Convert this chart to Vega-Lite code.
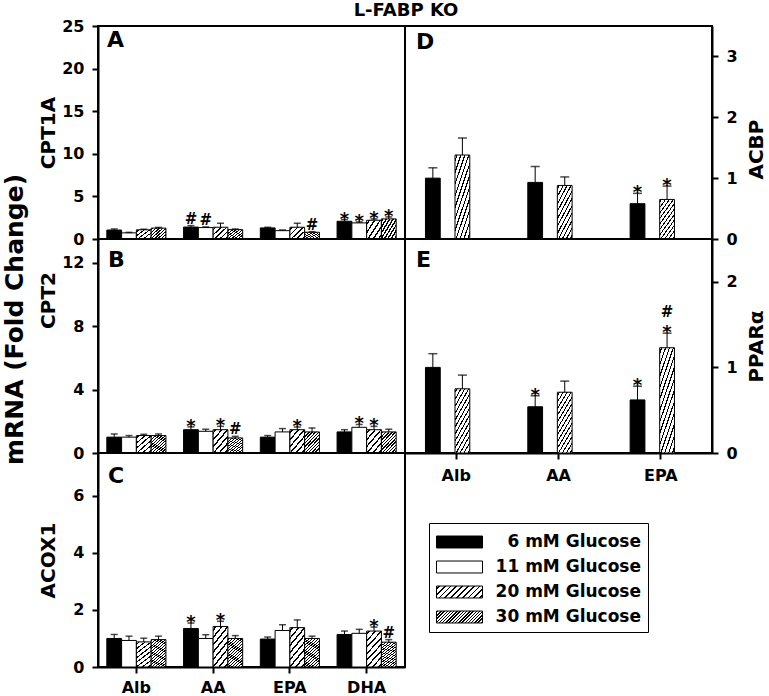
{
"$schema": "https://vega.github.io/schema/vega-lite/v6.json",
"padding": {"left": 2, "top": 2, "right": 0, "bottom": 0},
"title": {"text": "L-FABP KO", "fontSize": 18, "anchor": "middle", "dx": 21, "offset": -17, "baseline": "alphabetic"},
"data": {"name": "bars"},
"datasets": {"bars": [
{"p":"A","fa":"Alb","g":"6 mM Glucose","v":1.05,"u":1.18},
{"p":"A","fa":"Alb","g":"11 mM Glucose","v":0.72,"u":0.78},
{"p":"A","fa":"Alb","g":"20 mM Glucose","v":1.08,"u":1.15},
{"p":"A","fa":"Alb","g":"30 mM Glucose","v":1.28,"u":1.36},
{"p":"A","fa":"AA","g":"6 mM Glucose","v":1.4,"u":1.57,"s":"#"},
{"p":"A","fa":"AA","g":"11 mM Glucose","v":1.34,"u":1.42,"s":"#"},
{"p":"A","fa":"AA","g":"20 mM Glucose","v":1.38,"u":1.85},
{"p":"A","fa":"AA","g":"30 mM Glucose","v":1.1,"u":1.18},
{"p":"A","fa":"EPA","g":"6 mM Glucose","v":1.3,"u":1.38},
{"p":"A","fa":"EPA","g":"11 mM Glucose","v":0.98,"u":1.06},
{"p":"A","fa":"EPA","g":"20 mM Glucose","v":1.38,"u":1.85},
{"p":"A","fa":"EPA","g":"30 mM Glucose","v":0.79,"u":0.86,"s":"#"},
{"p":"A","fa":"DHA","g":"6 mM Glucose","v":2.08,"u":2.28,"s":"*"},
{"p":"A","fa":"DHA","g":"11 mM Glucose","v":1.89,"u":2.0,"s":"*"},
{"p":"A","fa":"DHA","g":"20 mM Glucose","v":2.2,"u":2.36,"s":"*"},
{"p":"A","fa":"DHA","g":"30 mM Glucose","v":2.36,"u":2.59,"s":"*"},
{"p":"B","fa":"Alb","g":"6 mM Glucose","v":1.0,"u":1.2},
{"p":"B","fa":"Alb","g":"11 mM Glucose","v":1.0,"u":1.1},
{"p":"B","fa":"Alb","g":"20 mM Glucose","v":1.1,"u":1.18},
{"p":"B","fa":"Alb","g":"30 mM Glucose","v":1.1,"u":1.2},
{"p":"B","fa":"AA","g":"6 mM Glucose","v":1.47,"u":1.65,"s":"*"},
{"p":"B","fa":"AA","g":"11 mM Glucose","v":1.37,"u":1.5},
{"p":"B","fa":"AA","g":"20 mM Glucose","v":1.47,"u":1.68,"s":"*"},
{"p":"B","fa":"AA","g":"30 mM Glucose","v":0.95,"u":1.05,"s":"#"},
{"p":"B","fa":"EPA","g":"6 mM Glucose","v":1.0,"u":1.1},
{"p":"B","fa":"EPA","g":"11 mM Glucose","v":1.33,"u":1.54},
{"p":"B","fa":"EPA","g":"20 mM Glucose","v":1.47,"u":1.64,"s":"*"},
{"p":"B","fa":"EPA","g":"30 mM Glucose","v":1.33,"u":1.58},
{"p":"B","fa":"DHA","g":"6 mM Glucose","v":1.33,"u":1.47},
{"p":"B","fa":"DHA","g":"11 mM Glucose","v":1.62,"u":1.8,"s":"*"},
{"p":"B","fa":"DHA","g":"20 mM Glucose","v":1.47,"u":1.68,"s":"*"},
{"p":"B","fa":"DHA","g":"30 mM Glucose","v":1.33,"u":1.5},
{"p":"C","fa":"Alb","g":"6 mM Glucose","v":1.0,"u":1.14},
{"p":"C","fa":"Alb","g":"11 mM Glucose","v":0.93,"u":1.08},
{"p":"C","fa":"Alb","g":"20 mM Glucose","v":0.88,"u":1.01},
{"p":"C","fa":"Alb","g":"30 mM Glucose","v":0.96,"u":1.08},
{"p":"C","fa":"AA","g":"6 mM Glucose","v":1.35,"u":1.54,"s":"*"},
{"p":"C","fa":"AA","g":"11 mM Glucose","v":1.0,"u":1.13},
{"p":"C","fa":"AA","g":"20 mM Glucose","v":1.42,"u":1.6,"s":"*"},
{"p":"C","fa":"AA","g":"30 mM Glucose","v":1.0,"u":1.1},
{"p":"C","fa":"EPA","g":"6 mM Glucose","v":0.98,"u":1.05},
{"p":"C","fa":"EPA","g":"11 mM Glucose","v":1.28,"u":1.48},
{"p":"C","fa":"EPA","g":"20 mM Glucose","v":1.38,"u":1.65},
{"p":"C","fa":"EPA","g":"30 mM Glucose","v":1.0,"u":1.08},
{"p":"C","fa":"DHA","g":"6 mM Glucose","v":1.14,"u":1.26},
{"p":"C","fa":"DHA","g":"11 mM Glucose","v":1.18,"u":1.32},
{"p":"C","fa":"DHA","g":"20 mM Glucose","v":1.26,"u":1.4,"s":"*"},
{"p":"C","fa":"DHA","g":"30 mM Glucose","v":0.87,"u":0.96,"s":"#"},
{"p":"D","fa":"Alb","g":"6 mM Glucose","v":1.0,"u":1.17},
{"p":"D","fa":"Alb","g":"20 mM Glucose","v":1.38,"u":1.66},
{"p":"D","fa":"AA","g":"6 mM Glucose","v":0.93,"u":1.19},
{"p":"D","fa":"AA","g":"20 mM Glucose","v":0.88,"u":1.02},
{"p":"D","fa":"EPA","g":"6 mM Glucose","v":0.58,"u":0.75,"s":"*"},
{"p":"D","fa":"EPA","g":"20 mM Glucose","v":0.65,"u":0.87,"s":"*"},
{"p":"E","fa":"Alb","g":"6 mM Glucose","v":1.0,"u":1.16},
{"p":"E","fa":"Alb","g":"20 mM Glucose","v":0.75,"u":0.91},
{"p":"E","fa":"AA","g":"6 mM Glucose","v":0.54,"u":0.67,"s":"*"},
{"p":"E","fa":"AA","g":"20 mM Glucose","v":0.71,"u":0.84},
{"p":"E","fa":"EPA","g":"6 mM Glucose","v":0.62,"u":0.78,"s":"*"},
{"p":"E","fa":"EPA","g":"20 mM Glucose","v":1.23,"u":1.4,"s":"*","s2":"#"}
]},
"vconcat": [
{
"concat": [
{
"width": 307, "height": 213,
"title": {"text": "A", "orient": "top", "anchor": "start", "frame": "group", "offset": -51, "dx": 9, "fontSize": 22, "baseline": "alphabetic"},
"transform": [{"filter": "datum.p === 'A'"}],
"encoding": {
"x": {"field": "fa", "type": "nominal", "sort": null, "scale": {"domain": ["Alb","AA","EPA","DHA"], "paddingInner": 0.23, "paddingOuter": 0.115}, "axis": null},
"xOffset": {"field": "g", "type": "nominal", "sort": null, "scale": {"domain": ["6 mM Glucose","11 mM Glucose","20 mM Glucose","30 mM Glucose"], "paddingInner": 0, "paddingOuter": 0}}
},
"layer": [
{"mark": {"type": "bar", "stroke": "#000", "strokeWidth": 1},
"encoding": {
"y": {"field": "v", "type": "quantitative", "scale": {"domain": [0, 25], "nice": false}, "axis": {"values": [0,5,10,15,20,25], "format": "d", "title": "CPT1A", "titleX": -40}},
"fill": {"condition": [
{"test": "datum.g === '6 mM Glucose'", "value": "#000"},
{"test": "datum.g === '20 mM Glucose'", "value": {"gradient": "linear", "x1": 0, "y1": 0, "x2": 1.08, "y2": 0.9, "stops": [{"offset":0.07,"color":"#fff"},{"offset":0.07,"color":"#000"},{"offset":0.13,"color":"#000"},{"offset":0.13,"color":"#fff"},{"offset":0.27,"color":"#fff"},{"offset":0.27,"color":"#000"},{"offset":0.33,"color":"#000"},{"offset":0.33,"color":"#fff"},{"offset":0.47,"color":"#fff"},{"offset":0.47,"color":"#000"},{"offset":0.53,"color":"#000"},{"offset":0.53,"color":"#fff"},{"offset":0.67,"color":"#fff"},{"offset":0.67,"color":"#000"},{"offset":0.73,"color":"#000"},{"offset":0.73,"color":"#fff"},{"offset":0.87,"color":"#fff"},{"offset":0.87,"color":"#000"},{"offset":0.93,"color":"#000"},{"offset":0.93,"color":"#fff"}]}},
{"test": "datum.g === '30 mM Glucose'", "value": {"gradient": "linear", "x1": 0, "y1": 0, "x2": 1.08, "y2": 0.9, "stops": [{"offset":0.034,"color":"#fff"},{"offset":0.034,"color":"#000"},{"offset":0.091,"color":"#000"},{"offset":0.091,"color":"#fff"},{"offset":0.159,"color":"#fff"},{"offset":0.159,"color":"#000"},{"offset":0.216,"color":"#000"},{"offset":0.216,"color":"#fff"},{"offset":0.284,"color":"#fff"},{"offset":0.284,"color":"#000"},{"offset":0.341,"color":"#000"},{"offset":0.341,"color":"#fff"},{"offset":0.409,"color":"#fff"},{"offset":0.409,"color":"#000"},{"offset":0.466,"color":"#000"},{"offset":0.466,"color":"#fff"},{"offset":0.534,"color":"#fff"},{"offset":0.534,"color":"#000"},{"offset":0.591,"color":"#000"},{"offset":0.591,"color":"#fff"},{"offset":0.659,"color":"#fff"},{"offset":0.659,"color":"#000"},{"offset":0.716,"color":"#000"},{"offset":0.716,"color":"#fff"},{"offset":0.784,"color":"#fff"},{"offset":0.784,"color":"#000"},{"offset":0.841,"color":"#000"},{"offset":0.841,"color":"#fff"},{"offset":0.909,"color":"#fff"},{"offset":0.909,"color":"#000"},{"offset":0.966,"color":"#000"},{"offset":0.966,"color":"#fff"}]}}
], "value": "#fff"}
}},
{"mark": {"type": "rule", "color": "#000", "strokeWidth": 1}, "encoding": {"y": {"field": "v", "type": "quantitative"}, "y2": {"field": "u"}}},
{"mark": {"type": "tick", "color": "#000", "thickness": 1.5, "size": 7}, "encoding": {"y": {"field": "u", "type": "quantitative"}}},
{"transform": [{"filter": "datum.s === '*'"}], "mark": {"type": "text", "fontSize": 18, "fontWeight": "bold", "baseline": "alphabetic", "dy": 5, "color": "#000"}, "encoding": {"y": {"field": "u", "type": "quantitative"}, "text": {"field": "s"}}},
{"transform": [{"filter": "datum.s === '#'"}], "mark": {"type": "text", "fontSize": 15, "fontWeight": "bold", "baseline": "alphabetic", "dy": -2, "color": "#000"}, "encoding": {"y": {"field": "u", "type": "quantitative"}, "text": {"field": "s"}}}
]
},
{
"width": 307, "height": 213,
"title": {"text": "D", "orient": "top", "anchor": "start", "frame": "group", "offset": -45, "dx": 11, "fontSize": 22, "baseline": "alphabetic"},
"transform": [{"filter": "datum.p === 'D'"}],
"encoding": {
"x": {"field": "fa", "type": "nominal", "sort": null, "scale": {"domain": ["Alb","AA","EPA"], "paddingInner": 0.4, "paddingOuter": 0.2}, "axis": null},
"xOffset": {"field": "g", "type": "nominal", "sort": null, "scale": {"domain": ["6 mM Glucose","20 mM Glucose"], "paddingInner": 0, "paddingOuter": 0}}
},
"layer": [
{"mark": {"type": "bar", "stroke": "#000", "strokeWidth": 1},
"encoding": {
"y": {"field": "v", "type": "quantitative", "scale": {"domain": [0, 3.5], "nice": false}, "axis": {"orient": "right", "values": [0,1,2,3], "format": "d", "title": "ACBP", "titleAngle": -90, "titleX": 54, "titleY": 123, "titleBaseline": "bottom", "titleAlign": "center"}},
"fill": {"condition": [
{"test": "datum.g === '6 mM Glucose'", "value": "#000"}
], "value": {"gradient": "linear", "x1": 0, "y1": 0, "x2": 0.622, "y2": 1.196, "stops": [{"offset":0.032,"color":"#fff"},{"offset":0.032,"color":"#000"},{"offset":0.059,"color":"#000"},{"offset":0.059,"color":"#fff"},{"offset":0.123,"color":"#fff"},{"offset":0.123,"color":"#000"},{"offset":0.15,"color":"#000"},{"offset":0.15,"color":"#fff"},{"offset":0.214,"color":"#fff"},{"offset":0.214,"color":"#000"},{"offset":0.241,"color":"#000"},{"offset":0.241,"color":"#fff"},{"offset":0.305,"color":"#fff"},{"offset":0.305,"color":"#000"},{"offset":0.332,"color":"#000"},{"offset":0.332,"color":"#fff"},{"offset":0.395,"color":"#fff"},{"offset":0.395,"color":"#000"},{"offset":0.423,"color":"#000"},{"offset":0.423,"color":"#fff"},{"offset":0.486,"color":"#fff"},{"offset":0.486,"color":"#000"},{"offset":0.514,"color":"#000"},{"offset":0.514,"color":"#fff"},{"offset":0.577,"color":"#fff"},{"offset":0.577,"color":"#000"},{"offset":0.605,"color":"#000"},{"offset":0.605,"color":"#fff"},{"offset":0.668,"color":"#fff"},{"offset":0.668,"color":"#000"},{"offset":0.695,"color":"#000"},{"offset":0.695,"color":"#fff"},{"offset":0.759,"color":"#fff"},{"offset":0.759,"color":"#000"},{"offset":0.786,"color":"#000"},{"offset":0.786,"color":"#fff"},{"offset":0.85,"color":"#fff"},{"offset":0.85,"color":"#000"},{"offset":0.877,"color":"#000"},{"offset":0.877,"color":"#fff"},{"offset":0.941,"color":"#fff"},{"offset":0.941,"color":"#000"},{"offset":0.968,"color":"#000"},{"offset":0.968,"color":"#fff"}]}}
}},
{"mark": {"type": "rule", "color": "#000", "strokeWidth": 1}, "encoding": {"y": {"field": "v", "type": "quantitative"}, "y2": {"field": "u"}}},
{"mark": {"type": "tick", "color": "#000", "thickness": 1.5, "size": 9}, "encoding": {"y": {"field": "u", "type": "quantitative"}}},
{"transform": [{"filter": "datum.s === '*'"}], "mark": {"type": "text", "fontSize": 18, "fontWeight": "bold", "baseline": "alphabetic", "dy": 5, "color": "#000"}, "encoding": {"y": {"field": "u", "type": "quantitative"}, "text": {"field": "s"}}}
]
},
{
"width": 307, "height": 214,
"title": {"text": "B", "orient": "top", "anchor": "start", "frame": "group", "offset": -50, "dx": 10, "fontSize": 22, "baseline": "alphabetic"},
"transform": [{"filter": "datum.p === 'B'"}],
"encoding": {
"x": {"field": "fa", "type": "nominal", "sort": null, "scale": {"domain": ["Alb","AA","EPA","DHA"], "paddingInner": 0.23, "paddingOuter": 0.115}, "axis": null},
"xOffset": {"field": "g", "type": "nominal", "sort": null, "scale": {"domain": ["6 mM Glucose","11 mM Glucose","20 mM Glucose","30 mM Glucose"], "paddingInner": 0, "paddingOuter": 0}}
},
"layer": [
{"mark": {"type": "bar", "stroke": "#000", "strokeWidth": 1},
"encoding": {
"y": {"field": "v", "type": "quantitative", "scale": {"domain": [0, 13.5], "nice": false}, "axis": {"values": [0,2,4,6,8,10,12], "format": "d", "title": "CPT2", "titleX": -40, "titleY": 61}},
"fill": {"condition": [
{"test": "datum.g === '6 mM Glucose'", "value": "#000"},
{"test": "datum.g === '20 mM Glucose'", "value": {"gradient": "linear", "x1": 0, "y1": 0, "x2": 0.832, "y2": 1.124, "stops": [{"offset":0.058,"color":"#fff"},{"offset":0.058,"color":"#000"},{"offset":0.108,"color":"#000"},{"offset":0.108,"color":"#fff"},{"offset":0.225,"color":"#fff"},{"offset":0.225,"color":"#000"},{"offset":0.275,"color":"#000"},{"offset":0.275,"color":"#fff"},{"offset":0.392,"color":"#fff"},{"offset":0.392,"color":"#000"},{"offset":0.442,"color":"#000"},{"offset":0.442,"color":"#fff"},{"offset":0.558,"color":"#fff"},{"offset":0.558,"color":"#000"},{"offset":0.608,"color":"#000"},{"offset":0.608,"color":"#fff"},{"offset":0.725,"color":"#fff"},{"offset":0.725,"color":"#000"},{"offset":0.775,"color":"#000"},{"offset":0.775,"color":"#fff"},{"offset":0.892,"color":"#fff"},{"offset":0.892,"color":"#000"},{"offset":0.942,"color":"#000"},{"offset":0.942,"color":"#fff"}]}},
{"test": "datum.g === '30 mM Glucose'", "value": {"gradient": "linear", "x1": 0, "y1": 0, "x2": 0.832, "y2": 1.124, "stops": [{"offset":0.025,"color":"#fff"},{"offset":0.025,"color":"#000"},{"offset":0.066,"color":"#000"},{"offset":0.066,"color":"#fff"},{"offset":0.116,"color":"#fff"},{"offset":0.116,"color":"#000"},{"offset":0.157,"color":"#000"},{"offset":0.157,"color":"#fff"},{"offset":0.207,"color":"#fff"},{"offset":0.207,"color":"#000"},{"offset":0.248,"color":"#000"},{"offset":0.248,"color":"#fff"},{"offset":0.298,"color":"#fff"},{"offset":0.298,"color":"#000"},{"offset":0.339,"color":"#000"},{"offset":0.339,"color":"#fff"},{"offset":0.389,"color":"#fff"},{"offset":0.389,"color":"#000"},{"offset":0.43,"color":"#000"},{"offset":0.43,"color":"#fff"},{"offset":0.48,"color":"#fff"},{"offset":0.48,"color":"#000"},{"offset":0.521,"color":"#000"},{"offset":0.521,"color":"#fff"},{"offset":0.571,"color":"#fff"},{"offset":0.571,"color":"#000"},{"offset":0.612,"color":"#000"},{"offset":0.612,"color":"#fff"},{"offset":0.661,"color":"#fff"},{"offset":0.661,"color":"#000"},{"offset":0.702,"color":"#000"},{"offset":0.702,"color":"#fff"},{"offset":0.752,"color":"#fff"},{"offset":0.752,"color":"#000"},{"offset":0.793,"color":"#000"},{"offset":0.793,"color":"#fff"},{"offset":0.843,"color":"#fff"},{"offset":0.843,"color":"#000"},{"offset":0.884,"color":"#000"},{"offset":0.884,"color":"#fff"},{"offset":0.934,"color":"#fff"},{"offset":0.934,"color":"#000"},{"offset":0.975,"color":"#000"},{"offset":0.975,"color":"#fff"}]}}
], "value": "#fff"}
}},
{"mark": {"type": "rule", "color": "#000", "strokeWidth": 1}, "encoding": {"y": {"field": "v", "type": "quantitative"}, "y2": {"field": "u"}}},
{"mark": {"type": "tick", "color": "#000", "thickness": 1.5, "size": 7}, "encoding": {"y": {"field": "u", "type": "quantitative"}}},
{"transform": [{"filter": "datum.s === '*'"}], "mark": {"type": "text", "fontSize": 18, "fontWeight": "bold", "baseline": "alphabetic", "dy": 5, "color": "#000"}, "encoding": {"y": {"field": "u", "type": "quantitative"}, "text": {"field": "s"}}},
{"transform": [{"filter": "datum.s === '#'"}], "mark": {"type": "text", "fontSize": 15, "fontWeight": "bold", "baseline": "alphabetic", "dy": -2, "color": "#000"}, "encoding": {"y": {"field": "u", "type": "quantitative"}, "text": {"field": "s"}}}
]
},
{
"width": 307, "height": 214,
"title": {"text": "E", "orient": "top", "anchor": "start", "frame": "group", "offset": -50, "dx": 11, "fontSize": 22, "baseline": "alphabetic"},
"transform": [{"filter": "datum.p === 'E'"}],
"encoding": {
"x": {"field": "fa", "type": "nominal", "sort": null, "scale": {"domain": ["Alb","AA","EPA"], "paddingInner": 0.4, "paddingOuter": 0.2}, "axis": {"orient": "bottom", "title": null, "labelAngle": 0, "tickSize": 6, "labelPadding": 8}},
"xOffset": {"field": "g", "type": "nominal", "sort": null, "scale": {"domain": ["6 mM Glucose","20 mM Glucose"], "paddingInner": 0, "paddingOuter": 0}}
},
"layer": [
{"mark": {"type": "bar", "stroke": "#000", "strokeWidth": 1},
"encoding": {
"y": {"field": "v", "type": "quantitative", "scale": {"domain": [0, 2.5], "nice": false}, "axis": {"orient": "right", "values": [0,1,2], "format": "d", "title": "PPARα", "titleAngle": -90, "titleX": 54, "titleY": 107, "titleBaseline": "bottom", "titleAlign": "center"}},
"fill": {"condition": [
{"test": "datum.g === '6 mM Glucose'", "value": "#000"}
], "value": {"gradient": "linear", "x1": 0, "y1": 0, "x2": 0.495, "y2": 1.207, "stops": [{"offset":0.027,"color":"#fff"},{"offset":0.027,"color":"#000"},{"offset":0.05,"color":"#000"},{"offset":0.05,"color":"#fff"},{"offset":0.104,"color":"#fff"},{"offset":0.104,"color":"#000"},{"offset":0.127,"color":"#000"},{"offset":0.127,"color":"#fff"},{"offset":0.181,"color":"#fff"},{"offset":0.181,"color":"#000"},{"offset":0.204,"color":"#000"},{"offset":0.204,"color":"#fff"},{"offset":0.258,"color":"#fff"},{"offset":0.258,"color":"#000"},{"offset":0.281,"color":"#000"},{"offset":0.281,"color":"#fff"},{"offset":0.335,"color":"#fff"},{"offset":0.335,"color":"#000"},{"offset":0.358,"color":"#000"},{"offset":0.358,"color":"#fff"},{"offset":0.412,"color":"#fff"},{"offset":0.412,"color":"#000"},{"offset":0.435,"color":"#000"},{"offset":0.435,"color":"#fff"},{"offset":0.488,"color":"#fff"},{"offset":0.488,"color":"#000"},{"offset":0.512,"color":"#000"},{"offset":0.512,"color":"#fff"},{"offset":0.565,"color":"#fff"},{"offset":0.565,"color":"#000"},{"offset":0.588,"color":"#000"},{"offset":0.588,"color":"#fff"},{"offset":0.642,"color":"#fff"},{"offset":0.642,"color":"#000"},{"offset":0.665,"color":"#000"},{"offset":0.665,"color":"#fff"},{"offset":0.719,"color":"#fff"},{"offset":0.719,"color":"#000"},{"offset":0.742,"color":"#000"},{"offset":0.742,"color":"#fff"},{"offset":0.796,"color":"#fff"},{"offset":0.796,"color":"#000"},{"offset":0.819,"color":"#000"},{"offset":0.819,"color":"#fff"},{"offset":0.873,"color":"#fff"},{"offset":0.873,"color":"#000"},{"offset":0.896,"color":"#000"},{"offset":0.896,"color":"#fff"},{"offset":0.95,"color":"#fff"},{"offset":0.95,"color":"#000"},{"offset":0.973,"color":"#000"},{"offset":0.973,"color":"#fff"}]}}
}},
{"mark": {"type": "rule", "color": "#000", "strokeWidth": 1}, "encoding": {"y": {"field": "v", "type": "quantitative"}, "y2": {"field": "u"}}},
{"mark": {"type": "tick", "color": "#000", "thickness": 1.5, "size": 9}, "encoding": {"y": {"field": "u", "type": "quantitative"}}},
{"transform": [{"filter": "datum.s === '*'"}], "mark": {"type": "text", "fontSize": 18, "fontWeight": "bold", "baseline": "alphabetic", "dy": 5, "color": "#000"}, "encoding": {"y": {"field": "u", "type": "quantitative"}, "text": {"field": "s"}}},
{"transform": [{"filter": "datum.s2 === '#'"}], "mark": {"type": "text", "fontSize": 15, "fontWeight": "bold", "baseline": "alphabetic", "dy": -16, "color": "#000"}, "encoding": {"y": {"field": "u", "type": "quantitative"}, "text": {"field": "s2"}}}
]
},
{
"width": 307, "height": 214,
"title": {"text": "C", "orient": "top", "anchor": "start", "frame": "group", "offset": -52, "dx": 10, "fontSize": 22, "baseline": "alphabetic"},
"transform": [{"filter": "datum.p === 'C'"}],
"encoding": {
"x": {"field": "fa", "type": "nominal", "sort": null, "scale": {"domain": ["Alb","AA","EPA","DHA"], "paddingInner": 0.23, "paddingOuter": 0.115}, "axis": {"orient": "bottom", "title": null, "labelAngle": 0, "tickSize": 6, "labelPadding": 6}},
"xOffset": {"field": "g", "type": "nominal", "sort": null, "scale": {"domain": ["6 mM Glucose","11 mM Glucose","20 mM Glucose","30 mM Glucose"], "paddingInner": 0, "paddingOuter": 0}}
},
"layer": [
{"mark": {"type": "bar", "stroke": "#000", "strokeWidth": 1},
"encoding": {
"y": {"field": "v", "type": "quantitative", "scale": {"domain": [0, 7.5], "nice": false}, "axis": {"values": [0,2,4,6], "format": "d", "title": "ACOX1", "titleX": -40}},
"fill": {"condition": [
{"test": "datum.g === '6 mM Glucose'", "value": "#000"},
{"test": "datum.g === '20 mM Glucose'", "value": {"gradient": "linear", "x1": 0, "y1": 0, "x2": 0.543, "y2": 1.206, "stops": [{"offset":0.044,"color":"#fff"},{"offset":0.044,"color":"#000"},{"offset":0.081,"color":"#000"},{"offset":0.081,"color":"#fff"},{"offset":0.169,"color":"#fff"},{"offset":0.169,"color":"#000"},{"offset":0.206,"color":"#000"},{"offset":0.206,"color":"#fff"},{"offset":0.294,"color":"#fff"},{"offset":0.294,"color":"#000"},{"offset":0.331,"color":"#000"},{"offset":0.331,"color":"#fff"},{"offset":0.419,"color":"#fff"},{"offset":0.419,"color":"#000"},{"offset":0.456,"color":"#000"},{"offset":0.456,"color":"#fff"},{"offset":0.544,"color":"#fff"},{"offset":0.544,"color":"#000"},{"offset":0.581,"color":"#000"},{"offset":0.581,"color":"#fff"},{"offset":0.669,"color":"#fff"},{"offset":0.669,"color":"#000"},{"offset":0.706,"color":"#000"},{"offset":0.706,"color":"#fff"},{"offset":0.794,"color":"#fff"},{"offset":0.794,"color":"#000"},{"offset":0.831,"color":"#000"},{"offset":0.831,"color":"#fff"},{"offset":0.919,"color":"#fff"},{"offset":0.919,"color":"#000"},{"offset":0.956,"color":"#000"},{"offset":0.956,"color":"#fff"}]}},
{"test": "datum.g === '30 mM Glucose'", "value": {"gradient": "linear", "x1": 0, "y1": 0, "x2": 0.543, "y2": 1.206, "stops": [{"offset":0.018,"color":"#fff"},{"offset":0.018,"color":"#000"},{"offset":0.048,"color":"#000"},{"offset":0.048,"color":"#fff"},{"offset":0.085,"color":"#fff"},{"offset":0.085,"color":"#000"},{"offset":0.115,"color":"#000"},{"offset":0.115,"color":"#fff"},{"offset":0.152,"color":"#fff"},{"offset":0.152,"color":"#000"},{"offset":0.182,"color":"#000"},{"offset":0.182,"color":"#fff"},{"offset":0.218,"color":"#fff"},{"offset":0.218,"color":"#000"},{"offset":0.248,"color":"#000"},{"offset":0.248,"color":"#fff"},{"offset":0.285,"color":"#fff"},{"offset":0.285,"color":"#000"},{"offset":0.315,"color":"#000"},{"offset":0.315,"color":"#fff"},{"offset":0.352,"color":"#fff"},{"offset":0.352,"color":"#000"},{"offset":0.382,"color":"#000"},{"offset":0.382,"color":"#fff"},{"offset":0.418,"color":"#fff"},{"offset":0.418,"color":"#000"},{"offset":0.448,"color":"#000"},{"offset":0.448,"color":"#fff"},{"offset":0.485,"color":"#fff"},{"offset":0.485,"color":"#000"},{"offset":0.515,"color":"#000"},{"offset":0.515,"color":"#fff"},{"offset":0.552,"color":"#fff"},{"offset":0.552,"color":"#000"},{"offset":0.582,"color":"#000"},{"offset":0.582,"color":"#fff"},{"offset":0.618,"color":"#fff"},{"offset":0.618,"color":"#000"},{"offset":0.648,"color":"#000"},{"offset":0.648,"color":"#fff"},{"offset":0.685,"color":"#fff"},{"offset":0.685,"color":"#000"},{"offset":0.715,"color":"#000"},{"offset":0.715,"color":"#fff"},{"offset":0.752,"color":"#fff"},{"offset":0.752,"color":"#000"},{"offset":0.782,"color":"#000"},{"offset":0.782,"color":"#fff"},{"offset":0.818,"color":"#fff"},{"offset":0.818,"color":"#000"},{"offset":0.848,"color":"#000"},{"offset":0.848,"color":"#fff"},{"offset":0.885,"color":"#fff"},{"offset":0.885,"color":"#000"},{"offset":0.915,"color":"#000"},{"offset":0.915,"color":"#fff"},{"offset":0.952,"color":"#fff"},{"offset":0.952,"color":"#000"},{"offset":0.982,"color":"#000"},{"offset":0.982,"color":"#fff"}]}}
], "value": "#fff"}
}},
{"mark": {"type": "bar", "opacity": 0},
"encoding": {
"y": {"field": "v", "type": "quantitative"},
"fill": {"field": "g", "type": "nominal", "scale": {"domain": ["6 mM Glucose","11 mM Glucose","20 mM Glucose","30 mM Glucose"], "range": ["#000", "#fff",
{"expr": "{gradient:'linear',x1:0,y1:0,x2:1.18,y2:0.308,stops:[{offset:0.035,color:'#fff'},{offset:0.035,color:'#000'},{offset:0.065,color:'#000'},{offset:0.065,color:'#fff'},{offset:0.135,color:'#fff'},{offset:0.135,color:'#000'},{offset:0.165,color:'#000'},{offset:0.165,color:'#fff'},{offset:0.235,color:'#fff'},{offset:0.235,color:'#000'},{offset:0.265,color:'#000'},{offset:0.265,color:'#fff'},{offset:0.335,color:'#fff'},{offset:0.335,color:'#000'},{offset:0.365,color:'#000'},{offset:0.365,color:'#fff'},{offset:0.435,color:'#fff'},{offset:0.435,color:'#000'},{offset:0.465,color:'#000'},{offset:0.465,color:'#fff'},{offset:0.535,color:'#fff'},{offset:0.535,color:'#000'},{offset:0.565,color:'#000'},{offset:0.565,color:'#fff'},{offset:0.635,color:'#fff'},{offset:0.635,color:'#000'},{offset:0.665,color:'#000'},{offset:0.665,color:'#fff'},{offset:0.735,color:'#fff'},{offset:0.735,color:'#000'},{offset:0.765,color:'#000'},{offset:0.765,color:'#fff'},{offset:0.835,color:'#fff'},{offset:0.835,color:'#000'},{offset:0.865,color:'#000'},{offset:0.865,color:'#fff'},{offset:0.935,color:'#fff'},{offset:0.935,color:'#000'},{offset:0.965,color:'#000'},{offset:0.965,color:'#fff'}]}"},
{"expr": "{gradient:'linear',x1:0,y1:0,x2:1.18,y2:0.308,stops:[{offset:0.015,color:'#fff'},{offset:0.015,color:'#000'},{offset:0.04,color:'#000'},{offset:0.04,color:'#fff'},{offset:0.071,color:'#fff'},{offset:0.071,color:'#000'},{offset:0.096,color:'#000'},{offset:0.096,color:'#fff'},{offset:0.126,color:'#fff'},{offset:0.126,color:'#000'},{offset:0.151,color:'#000'},{offset:0.151,color:'#fff'},{offset:0.182,color:'#fff'},{offset:0.182,color:'#000'},{offset:0.207,color:'#000'},{offset:0.207,color:'#fff'},{offset:0.237,color:'#fff'},{offset:0.237,color:'#000'},{offset:0.262,color:'#000'},{offset:0.262,color:'#fff'},{offset:0.293,color:'#fff'},{offset:0.293,color:'#000'},{offset:0.318,color:'#000'},{offset:0.318,color:'#fff'},{offset:0.349,color:'#fff'},{offset:0.349,color:'#000'},{offset:0.374,color:'#000'},{offset:0.374,color:'#fff'},{offset:0.404,color:'#fff'},{offset:0.404,color:'#000'},{offset:0.429,color:'#000'},{offset:0.429,color:'#fff'},{offset:0.46,color:'#fff'},{offset:0.46,color:'#000'},{offset:0.485,color:'#000'},{offset:0.485,color:'#fff'},{offset:0.515,color:'#fff'},{offset:0.515,color:'#000'},{offset:0.54,color:'#000'},{offset:0.54,color:'#fff'},{offset:0.571,color:'#fff'},{offset:0.571,color:'#000'},{offset:0.596,color:'#000'},{offset:0.596,color:'#fff'},{offset:0.626,color:'#fff'},{offset:0.626,color:'#000'},{offset:0.651,color:'#000'},{offset:0.651,color:'#fff'},{offset:0.682,color:'#fff'},{offset:0.682,color:'#000'},{offset:0.707,color:'#000'},{offset:0.707,color:'#fff'},{offset:0.737,color:'#fff'},{offset:0.737,color:'#000'},{offset:0.762,color:'#000'},{offset:0.762,color:'#fff'},{offset:0.793,color:'#fff'},{offset:0.793,color:'#000'},{offset:0.818,color:'#000'},{offset:0.818,color:'#fff'},{offset:0.849,color:'#fff'},{offset:0.849,color:'#000'},{offset:0.874,color:'#000'},{offset:0.874,color:'#fff'},{offset:0.904,color:'#fff'},{offset:0.904,color:'#000'},{offset:0.929,color:'#000'},{offset:0.929,color:'#fff'},{offset:0.96,color:'#fff'},{offset:0.96,color:'#000'},{offset:0.985,color:'#000'},{offset:0.985,color:'#fff'}]}"}
]},
"legend": {"orient": "none", "legendX": 331, "legendY": 497, "title": null, "strokeColor": "#000", "padding": 7,
"symbolType": "M-1,-0.52H3V0.52H-1Z", "symbolSize": 529, "symbolStrokeWidth": 1, "symbolStrokeColor": "#000", "symbolOpacity": 1,
"labelFont": "DejaVu Sans", "labelFontWeight": "bold", "labelFontSize": 17, "labelColor": "#000", "labelAlign": "right", "labelOffset": 181, "labelLimit": 300, "rowPadding": 5}
}
}},
{"mark": {"type": "rule", "color": "#000", "strokeWidth": 1}, "encoding": {"y": {"field": "v", "type": "quantitative"}, "y2": {"field": "u"}}},
{"mark": {"type": "tick", "color": "#000", "thickness": 1.5, "size": 7}, "encoding": {"y": {"field": "u", "type": "quantitative"}}},
{"transform": [{"filter": "datum.s === '*'"}], "mark": {"type": "text", "fontSize": 18, "fontWeight": "bold", "baseline": "alphabetic", "dy": 5, "color": "#000"}, "encoding": {"y": {"field": "u", "type": "quantitative"}, "text": {"field": "s"}}},
{"transform": [{"filter": "datum.s === '#'"}], "mark": {"type": "text", "fontSize": 15, "fontWeight": "bold", "baseline": "alphabetic", "dy": -2, "color": "#000"}, "encoding": {"y": {"field": "u", "type": "quantitative"}, "text": {"field": "s"}}}
]
}
],
"columns": 2,
"spacing": 0,
"bounds": "flush",
"title": {"text": "mRNA (Fold Change)", "orient": "left", "anchor": "middle", "fontSize": 25, "offset": -16, "dx": 37, "baseline": "bottom"}
}
],
"config": {
"font": "DejaVu Sans",
"view": {"stroke": "#000", "strokeWidth": 2},
"axis": {"domainColor": "#000", "domainWidth": 2, "tickColor": "#000", "tickWidth": 2, "tickSize": 6, "labelPadding": 8, "labelFont": "DejaVu Sans", "labelFontSize": 16, "labelFontWeight": "bold", "labelColor": "#000", "titleFont": "DejaVu Sans", "titleFontSize": 20, "titleFontWeight": "bold", "titleColor": "#000", "grid": false, "labelFlush": false, "labelOverlap": false},
"title": {"font": "DejaVu Sans", "fontWeight": "bold", "color": "#000"}
}
}
